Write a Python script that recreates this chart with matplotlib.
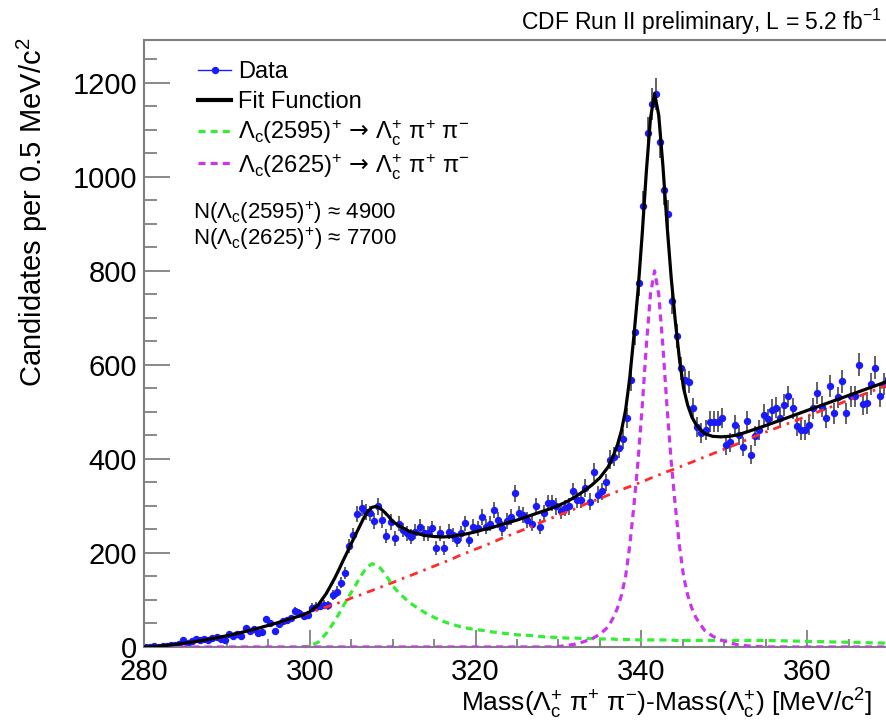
import numpy as np
import matplotlib
matplotlib.use("Agg")
import matplotlib.pyplot as plt
from matplotlib.lines import Line2D
from matplotlib.ticker import MultipleLocator

plt.rcParams['font.family'] = ['Liberation Sans', 'DejaVu Sans']
plt.rcParams['mathtext.fontset'] = 'custom'
plt.rcParams['mathtext.rm'] = 'Liberation Sans'
plt.rcParams['mathtext.it'] = 'Liberation Sans:italic'
plt.rcParams['mathtext.bf'] = 'Liberation Sans:bold'
plt.rcParams['mathtext.sf'] = 'DejaVu Sans'

# ---------------- histogram: candidates per 0.5 MeV/c^2, first bin starts at 280 ----------------
bin_low = 280.0
bin_width = 0.5
counts = [
    1, 0, 2, 1, 3, 2, 4, 5, 6, 14,                       # 280 - 285
    8, 12, 17, 15, 16, 14, 19, 22, 18, 15,               # 285 - 290
    28, 24, 27, 24, 41, 33, 38, 30, 31, 59,              # 290 - 295
    50, 34, 48, 55, 57, 61, 77, 72, 66, 67,              # 295 - 300
    84, 86, 88, 90, 89, 110, 118, 137, 158, 215,         # 300 - 305
    238, 283, 296, 287, 284, 268, 299, 270, 236, 266,    # 305 - 310
    231, 262, 249, 242, 235, 245, 256, 242, 242, 253,    # 310 - 315
    210, 242, 210, 245, 238, 228, 242, 263, 228, 256,    # 315 - 320
    253, 277, 256, 262, 292, 270, 253, 268, 277, 327,    # 320 - 325
    284, 281, 270, 262, 299, 256, 285, 306, 306, 299,    # 325 - 330
    290, 295, 299, 331, 313, 313, 338, 309, 373, 324,    # 330 - 335
    331, 350, 398, 405, 423, 442, 487, 568, 669, 774,    # 335 - 340
    939, 1094, 1155, 1176, 1073, 971, 921, 736, 662, 593,  # 340 - 345
    568, 563, 508, 468, 455, 462, 479, 479, 479, 487,    # 345 - 350
    430, 435, 472, 451, 426, 481, 409, 448, 462, 494,    # 350 - 355
    484, 504, 509, 488, 515, 533, 508, 470, 462, 462,    # 355 - 360
    472, 508, 540, 511, 487, 555, 497, 531, 565, 497,    # 360 - 365
    533, 533, 600, 516, 519, 560, 594, 534, 559, 570,    # 365 - 370
]

# ---------------- fit curves sampled along the mass axis ----------------
fit_x = [280, 282, 284, 286, 288, 290, 292, 294, 296, 298,
         299, 300, 301, 302, 303,
         303.5, 304, 304.5, 305, 305.5, 306, 306.5, 307, 307.5, 308, 308.5,
         309, 309.5, 310, 310.5, 311, 311.5, 312,
         313, 314, 315, 316, 317, 318, 319, 320, 321, 322, 323, 324, 325, 326,
         327, 328, 329, 330, 331, 332, 333, 334, 335, 336,
         336.6, 337.1, 337.6, 338.1, 338.6, 339.1, 339.6, 340.1, 340.6, 341.1,
         341.6, 342.1, 342.6, 343.1, 343.6, 344.1, 344.6, 345.1, 345.6, 346.1, 346.6,
         347.6, 348.6, 349.6, 350.6, 351.6,
         353, 355, 357.5, 360, 362.5, 365, 367.5, 370]

# combinatorial background (threshold shape)
background = [0, 2, 6, 11, 17, 24, 32, 41, 51, 62,
              67, 73, 79, 85, 91,
              94, 97, 100, 104, 107, 110, 114, 117, 120, 124, 127,
              130, 134, 137, 141, 144, 148, 151,
              158, 165, 172, 179, 186, 194, 201, 208, 215, 222, 230, 237, 244, 251,
              258, 266, 273, 280, 287, 294, 302, 309, 316, 323,
              327, 331, 334, 338, 341, 345, 348, 352, 355, 359,
              362, 366, 369, 373, 376, 379, 383, 386, 390, 393, 397,
              404, 411, 418, 425, 432,
              443, 457, 474, 491, 508, 525, 542, 559]

# Lambda_c(2595)+ component (starts at threshold)
nan = np.nan
sig_2595 = [nan, nan, nan, nan, nan, nan, nan, nan, nan, nan,
            0, 2, 10, 29, 55,
            70, 86, 101, 116, 131, 146, 160, 171, 177, 175, 168,
            157, 144, 130, 120, 111, 103, 95,
            83, 72, 63, 55, 49, 44, 40, 37, 35, 32, 30, 28, 26, 25,
            24, 22, 21, 20, 19, 19, 18, 18, 17, 17,
            17, 16, 16, 16, 16, 16, 15, 15, 15, 15,
            15, 15, 15, 15, 15, 14, 14, 14, 14, 14, 14,
            14, 14, 14, 14, 14,
            14, 14, 13, 12, 11, 10, 9, 8]

# Lambda_c(2625)+ component
sig_2625 = [0, 0, 0, 0, 0, 0, 0, 0, 0, 0,
            0, 0, 0, 0, 0,
            0, 0, 0, 0, 0, 0, 0, 0, 0, 0, 0,
            0, 0, 0, 0, 0, 0, 0,
            0, 0, 0, 0, 0, 0, 0, 0, 0, 0, 0, 0, 0, 0,
            0, 0, 0, 1, 3, 6, 11, 17, 27, 43,
            62, 82, 110, 150, 215, 300, 395, 510, 640, 750,
            800, 750, 640, 510, 395, 300, 215, 150, 110, 82, 62,
            36, 23, 15, 9, 5,
            2, 0, 0, 0, 0, 0, 0, 0]

# total fit function
fit_total = [0, 2, 6, 11, 17, 24, 32, 41, 51, 62,
             67, 75, 89, 114, 146,
             164, 183, 201, 220, 238, 256, 274, 288, 297, 299, 295,
             287, 278, 267, 261, 255, 251, 246,
             241, 237, 235, 234, 235, 238, 241, 245, 250, 254, 260, 265, 270, 276,
             282, 288, 294, 301, 309, 319, 331, 344, 360, 383,
             406, 429, 460, 504, 572, 661, 758, 877, 1010, 1124,
             1177, 1131, 1024, 898, 786, 693, 612, 550, 514, 489, 473,
             454, 448, 447, 448, 451,
             459, 471, 487, 503, 519, 535, 551, 567]

W, H = 886, 723


def fx(px):
    return px / W


def fy(py):
    return 1 - py / H


mass = bin_low + bin_width * (np.arange(len(counts)) + 0.5)
errors = np.sqrt(np.asarray(counts, dtype=float))

fig = plt.figure(figsize=(W / 100, H / 100), dpi=100)
ax = fig.add_axes([fx(144), fy(647), (890 - 144) / W, (647 - 40) / H])

ax.errorbar(mass, counts, yerr=errors, fmt='o', ms=4.3, color='#1a1aff',
            mec='#1a1aff', ecolor='#555555', elinewidth=1.3, capsize=0, zorder=2)
ax.plot(fit_x, background, color='#ff2a2a', lw=2.0, dashes=(3.0, 2.2, 0.9, 2.2), zorder=3)
ax.plot(fit_x, sig_2595, color='#33ee33', lw=2.3, dashes=(2.2, 1.6), zorder=3)
ax.plot(fit_x, sig_2625, color='#cc33ee', lw=2.3, dashes=(2.2, 1.6), zorder=3)
ax.plot(fit_x, fit_total, color='black', lw=2.3, zorder=4)

ax.set_xlim(280, 370)
ax.set_ylim(0, 1291)
ax.xaxis.set_major_locator(MultipleLocator(20))
ax.xaxis.set_minor_locator(MultipleLocator(5))
ax.yaxis.set_major_locator(MultipleLocator(200))
ax.yaxis.set_minor_locator(MultipleLocator(50))

axis_grey = '#808080'
ax.tick_params(axis='both', which='both', direction='in', color=axis_grey,
               labelcolor='black', width=1.3)
ax.tick_params(axis='y', which='major', length=19, labelsize=21, pad=5)
ax.tick_params(axis='y', which='minor', length=9.5)
ax.tick_params(axis='x', which='major', length=12.5, labelsize=21, pad=8)
ax.tick_params(axis='x', which='minor', length=6)
for side in ('left', 'top', 'bottom'):
    ax.spines[side].set_color(axis_grey)
    ax.spines[side].set_linewidth(1.5)
ax.spines['right'].set_visible(False)

arrow = r'$\,\mathsf{\rightarrow}\,$'

# axis titles
fig.text(fx(32), fy(38), r'Candidates per 0.5 MeV/c$^{2}$', rotation=90,
         ha='center', va='top', fontsize=21)
fig.text(fx(872), fy(712),
         r'Mass(Λ$_{\mathrm{c}}^{+}$ π$^{+}$ π$^{-}$)-Mass(Λ$_{\mathrm{c}}^{+}$) [MeV/c$^{2}$]',
         ha='right', va='baseline', fontsize=19)
fig.text(fx(882), fy(30), r'CDF Run II preliminary, L = 5.2 fb$^{\mathrm{-1}}$',
         ha='right', va='baseline', fontsize=16.5)

# legend
x0, x1, xt = 198, 231, 238
entries = [
    (70, 78, 'Data', dict(color='#1a1aff', lw=1.0)),
    (100, 108, 'Fit Function', dict(color='black', lw=3.0)),
    (131, 140, r'Λ$_{\mathrm{c}}$(2595)$^{+}$' + arrow + r'Λ$_{\mathrm{c}}^{+}$ π$^{+}$ π$^{-}$',
     dict(color='#33ee33', lw=2.3, dashes=(2.2, 1.6))),
    (163, 173, r'Λ$_{\mathrm{c}}$(2625)$^{+}$' + arrow + r'Λ$_{\mathrm{c}}^{+}$ π$^{+}$ π$^{-}$',
     dict(color='#cc33ee', lw=2.3, dashes=(2.2, 1.6))),
]
for yline, ybase, label, style in entries:
    fig.add_artist(Line2D([fx(x0), fx(x1)], [fy(yline), fy(yline)], **style))
    fig.text(fx(xt), fy(ybase), label, ha='left', va='baseline', fontsize=17)
fig.add_artist(Line2D([fx((x0 + x1) / 2)], [fy(70)], marker='o', ms=4.3,
                      color='#1a1aff', lw=0))

fig.text(fx(193), fy(219), r'N(Λ$_{\mathrm{c}}$(2595)$^{+}$) ≈ 4900',
         ha='left', va='baseline', fontsize=16)
fig.text(fx(193), fy(245), r'N(Λ$_{\mathrm{c}}$(2625)$^{+}$) ≈ 7700',
         ha='left', va='baseline', fontsize=16)

fig.savefig('out.png', dpi=100)
